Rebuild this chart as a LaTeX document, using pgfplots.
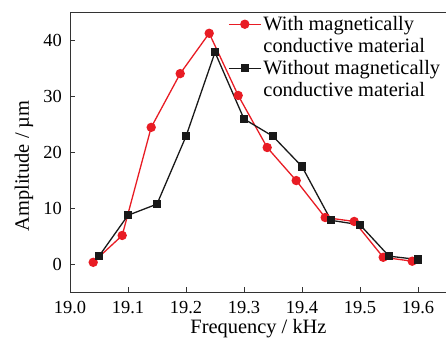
\documentclass[border=0pt]{standalone}
\usepackage{pgfplots}
\pgfplotsset{compat=1.18}
\usepackage{fontspec}
\setmainfont{Liberation Serif}
\definecolor{myred}{RGB}{232,28,36}
\definecolor{myblack}{RGB}{25,25,25}
\begin{document}
\begin{tikzpicture}
\begin{axis}[
  at={(0,0)}, anchor=south west,
  scale only axis, width=377bp, height=280bp,
  xmin=19.0, xmax=19.65, ymin=-5, ymax=45,
  xtick={19.0,19.1,19.2,19.3,19.4,19.5,19.6},
  ytick={0,10,20,30,40},
  xticklabel style={/pgf/number format/.cd,fixed,fixed zerofill,precision=1,/tikz/.cd},
  /pgf/number format/assume math mode=true,
  tick align=inside, major tick length=5bp,
  xtick pos=bottom, ytick pos=left,
  axis line style={black!80, line width=1bp},
  every tick/.style={black!80, line width=0.8bp},
  tick label style={font=\fontsize{18.5}{20}\selectfont},
  xticklabel style={anchor=base, yshift=-21bp, inner sep=0pt},
  yticklabel style={anchor=east, xshift=-8bp, inner sep=0pt},
  label style={font=\fontsize{20.5}{22}\selectfont},
  xlabel={Frequency / kHz},
  xlabel style={at={(axis description cs:0.5,0)}, anchor=base, yshift=-41bp, inner sep=0pt},
  ylabel={Amplitude / µm},
  ylabel style={at={(axis description cs:-0.122,0.45)}, anchor=center, inner sep=0pt},
  legend style={draw=none, fill=none, inner sep=0pt, at={(axis description cs:0.419,0.985)}, anchor=north west,
    font=\fontsize{20.5}{20}\selectfont, row sep=6.3bp, column sep=0bp, nodes={inner sep=0bp, outer sep=0pt}},
  legend cell align=left,
  legend image code/.code={\draw[#1,mark repeat=2,mark phase=2] plot coordinates {(0bp,0bp) (16bp,0bp) (32bp,0bp)};},
]
\addplot[myred, line width=1.3bp, mark=*, mark size=4bp, mark options={fill=myred, draw=myred}] coordinates {
(19.04,0.3) (19.09,5.1) (19.14,24.4) (19.19,34.0) (19.24,41.2) (19.29,30.1)
(19.34,20.8) (19.39,14.9) (19.44,8.3) (19.49,7.6) (19.54,1.2) (19.59,0.5)};
\addlegendentry{\hspace{2bp}With magnetically}
\addlegendimage{empty legend}
\addlegendentry{\hspace{2bp}conductive material}
\addplot[myblack, line width=1.3bp, mark=square*, mark size=3.5bp, mark options={fill=myblack, draw=myblack}] coordinates {
(19.05,1.4) (19.10,8.7) (19.15,10.7) (19.20,22.8) (19.25,37.8) (19.30,25.9)
(19.35,22.8) (19.40,17.4) (19.45,7.8) (19.50,7.0) (19.55,1.4) (19.60,0.8)};
\addlegendentry{\hspace{2bp}Without magnetically}
\addlegendimage{empty legend}
\addlegendentry{\hspace{2bp}conductive material}
\end{axis}
\pgfresetboundingbox
\useasboundingbox (-70bp,-48bp) rectangle (376bp,292bp);
\end{tikzpicture}
\end{document}
